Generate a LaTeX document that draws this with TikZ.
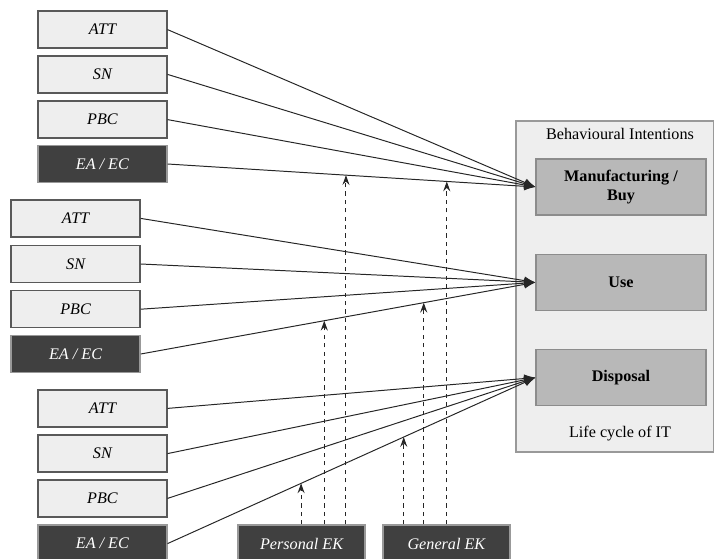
\documentclass[tikz,border=0pt]{standalone}
\usepackage{fontspec}
\setmainfont{Liberation Serif}
\usepackage{tikz}
\usetikzlibrary{arrows.meta, calc, positioning}

\definecolor{boxgray}{HTML}{EEEEEE}
\definecolor{darkbox}{HTML}{404040}
\definecolor{stagegray}{HTML}{B8B8B8}

\tikzset{
  factor/.style={draw=black!65, fill=boxgray, line width=0.9pt, minimum width=3.225cm, minimum height=0.925cm, font=\fontsize{11.5}{13.5}\selectfont\itshape},
  extfactor/.style={factor, draw=black!40, fill=darkbox, text=white},
  stage/.style={draw=black!45, fill=stagegray, line width=0.8pt, minimum width=4.25cm, minimum height=1.4cm, align=center, font=\fontsize{11.5}{13.5}\selectfont\bfseries}
}

\begin{document}
\begin{tikzpicture}[font=\fontsize{11.5}{13.5}\selectfont]
\useasboundingbox (0,0) rectangle (17.85,-13.95);

% behavioural intentions over the life cycle
\draw[draw=black!40, fill=boxgray, line width=0.8pt] (12.9,-3.025) rectangle (17.83,-11.3);
\node (bi) at (15.5,-3.35) {Behavioural Intentions};
\node (lc) at (15.5,-10.83) {Life cycle of IT};

\begin{scope}[every node/.style={stage}]
    \node (mfg) at (15.525,-4.675) {Manufacturing /\\Buy};
    \node (use) at (15.525,-7.06) {Use};
    \node (disp) at (15.525,-9.44) {Disposal};
\end{scope}

% first group
\node[factor] (att1) at (2.56,-0.74) {ATT};
\node[factor] (sn1) at (2.56,-1.86) {SN};
\node[factor] (pbc1) at (2.56,-2.99) {PBC};
\node[extfactor] (ea1) at (2.56,-4.10) {EA / EC};

% second group
\node[factor] (att2) at (1.89,-5.46) {ATT};
\node[factor] (sn2) at (1.89,-6.60) {SN};
\node[factor] (pbc2) at (1.89,-7.73) {PBC};
\node[extfactor] (ea2) at (1.89,-8.85) {EA / EC};

% third group
\node[factor] (att3) at (2.56,-10.21) {ATT};
\node[factor] (sn3) at (2.56,-11.34) {SN};
\node[factor] (pbc3) at (2.56,-12.46) {PBC};
\node[extfactor] (ea3) at (2.56,-13.59) {EA / EC};

% moderators
\node[extfactor, minimum width=3.175cm] (pek) at (7.54,-13.59) {Personal EK};
\node[extfactor, minimum width=3.175cm] (gek) at (11.16,-13.59) {General EK};

\begin{scope}[line width=0.7pt, black!85, -{Latex[length=8pt,width=6pt]}]
    \draw (att1.east) -- (mfg.west);
    \draw (sn1.east) -- (mfg.west);
    \draw (pbc1.east) -- (mfg.west);
    \draw (ea1.east) -- coordinate[pos=0.485] (p1) coordinate[pos=0.759] (g1) (mfg.west);
    \draw (att2.east) -- (use.west);
    \draw (sn2.east) -- (use.west);
    \draw (pbc2.east) -- (use.west);
    \draw (ea2.east) -- coordinate[pos=0.465] (p2) coordinate[pos=0.717] (g2) (use.west);
    \draw (att3.east) -- (disp.west);
    \draw (sn3.east) -- (disp.west);
    \draw (pbc3.east) -- (disp.west);
    \draw (ea3.east) -- coordinate[pos=0.363] (p3) coordinate[pos=0.642] (g3) (disp.west);
\end{scope}

\begin{scope}[dashed, line width=0.7pt, black!85, -{Stealth[length=7pt,width=5pt,inset=2.5pt]}]
    \draw (pek.north -| p1) -- (p1);
    \draw (pek.north -| p2) -- (p2);
    \draw (pek.north -| p3) -- (p3);
    \draw (gek.north -| g1) -- (g1);
    \draw (gek.north -| g2) -- (g2);
    \draw (gek.north -| g3) -- (g3);
\end{scope}
\end{tikzpicture}
\end{document}
